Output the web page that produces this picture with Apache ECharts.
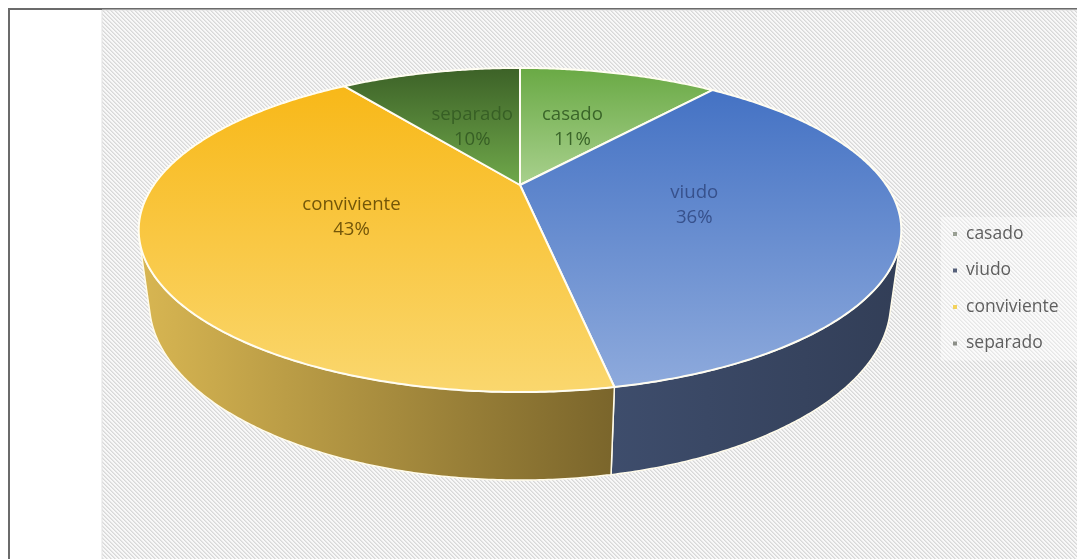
<!DOCTYPE html>
<html>
<head>
<meta charset="utf-8">
<script src="https://cdn.jsdelivr.net/npm/echarts@6/dist/echarts.min.js"></script>
<style>
  html, body { margin: 0; padding: 0; background: #ffffff; }
  #chart { width: 1077px; height: 559px; }
</style>
</head>
<body>
<div id="chart"></div>
<script>
// ---- data ----
const categories = ['casado', 'viudo', 'conviviente', 'separado'];
const values = [11, 36, 43, 10];

// ---- palette ----
const topColors = [
  ['#69a944', '#a9d18e'],
  ['#4472c4', '#8eaadc'],
  ['#f8b818', '#fad76e'],
  ['#3c6127', '#70a94b']
];
const sideColors = [
  ['#5a8a3a', '#476e2e'],
  ['#3e4d6c', '#323e57'],
  ['#d8b652', '#7a652b'],
  ['#355522', '#2c461c']
];
const labelColors = ['#3a6529', '#37518c', '#735609', '#375f25'];
const legendColors = ['#9aa094', '#56607a', '#f3d25c', '#8c8f88'];

// ---- tilted-disc projection (perspective view of a flat cylinder) ----
const view = {
  cx: 520, cy: 185,          // screen position of the disc centre
  focal: 1204,               // perspective scale
  dist: 3.287,               // camera distance, in disc radii
  elev: 24.1 * Math.PI / 180,// viewing elevation
  depth: 0.2135,             // disc thickness, in disc radii
  labelRadius: 0.475
};
const sinE = Math.sin(view.elev), cosE = Math.cos(view.elev);

function project(theta, r, z) {
  const x = r * Math.sin(theta);
  const y = r * Math.cos(theta);           // positive = away from the viewer
  const yc = y * sinE + z * cosE;
  const zc = view.dist + y * cosE - z * sinE;
  return [view.cx + view.focal * x / zc, view.cy - view.focal * yc / zc];
}

// the outer wall faces the camera where cos(theta) < -1 / (dist * cos(elev))
const wallLimit = Math.acos(-1 / (view.dist * cosE));
const wallLo = wallLimit, wallHi = 2 * Math.PI - wallLimit;

const total = values.reduce((a, b) => a + b, 0);
const starts = [];
values.reduce((acc, v, i) => { starts[i] = acc; return acc + v; }, 0);

function arc(a0, a1, r, z) {
  const pts = [];
  const n = Math.max(2, Math.ceil((a1 - a0) / (Math.PI / 360)));
  for (let k = 0; k <= n; k++) pts.push(project(a0 + (a1 - a0) * k / n, r, z));
  return pts;
}

function makeRender(idx) {
  return function (params, api) {
    const v = api.value(0);
    const s = api.value(1);
    const a0 = s / total * 2 * Math.PI;
    const a1 = (s + v) / total * 2 * Math.PI;
    const children = [];

    // outer wall (only the part turned towards the viewer)
    const w0 = Math.max(a0, wallLo), w1 = Math.min(a1, wallHi);
    if (w1 > w0) {
      const upper = arc(w0, w1, 1, 0);
      const lower = arc(w0, w1, 1, -view.depth).reverse();
      children.push({
        type: 'polygon',
        z2: 1,
        shape: { points: upper.concat(lower) },
        style: {
          fill: new echarts.graphic.LinearGradient(0, 0, 1, 0, [
            { offset: 0, color: sideColors[idx][0] },
            { offset: 1, color: sideColors[idx][1] }
          ]),
          stroke: '#fffbea',
          lineWidth: 1.5,
          lineJoin: 'round'
        }
      });
    }

    // top face
    const topPts = [project(0, 0, 0)].concat(arc(a0, a1, 1, 0));
    children.push({
      type: 'polygon',
      z2: 10,
      shape: { points: topPts },
      style: {
        fill: new echarts.graphic.LinearGradient(0, 0, 0, 1, [
          { offset: 0, color: topColors[idx][0] },
          { offset: 1, color: topColors[idx][1] }
        ]),
        stroke: '#fffdf2',
        lineWidth: 2,
        lineJoin: 'round'
      }
    });

    // data label
    const mid = (a0 + a1) / 2;
    const lp = project(mid, view.labelRadius, 0);
    const pct = Math.round(v / total * 100) + '%';
    children.push({
      type: 'text',
      z2: 20,
      x: lp[0],
      y: lp[1] + 2,
      style: {
        text: categories[idx] + '\n' + pct,
        fill: labelColors[idx],
        fontFamily: '"Open Sans", sans-serif',
        fontSize: 18.6,
        lineHeight: 25,
        align: 'center',
        verticalAlign: 'middle'
      }
    });

    return { type: 'group', children: children };
  };
}

// diagonal-hatch tile for the plot background
function hatchTile() {
  const n = 4;
  const c = document.createElement('canvas');
  c.width = n; c.height = n;
  const g = c.getContext('2d');
  for (let y = 0; y < n; y++) {
    for (let x = 0; x < n; x++) {
      const d = ((x - y) % n + n) % n;
      g.fillStyle = d === 0 ? '#d8d8d8' : (d === 1 ? '#e6e6e6' : '#f8f8f8');
      g.fillRect(x, y, 1, 1);
    }
  }
  return c;
}

const chart = echarts.init(document.getElementById('chart'), null, { renderer: 'canvas' });

const series = categories.map((name, i) => ({
  type: 'custom',
  name: name,
  coordinateSystem: 'none',
  itemStyle: { color: legendColors[i] },
  data: [[values[i], starts[i]]],
  renderItem: makeRender(i),
  silent: true
}));

chart.setOption({
  animation: false,
  backgroundColor: '#ffffff',
  graphic: [
    {
      type: 'rect', z: 0,
      shape: { x: 9, y: 9, width: 1080, height: 560 },
      style: { fill: '#ffffff', stroke: '#6b6b6b', lineWidth: 2 }
    },
    {
      type: 'rect', z: 0,
      shape: { x: 102, y: 10, width: 980, height: 560 },
      style: { fill: { image: hatchTile(), repeat: 'repeat' }, stroke: '#e3e3e3', lineWidth: 1 }
    }
  ],
  legend: {
    data: categories,
    orient: 'vertical',
    left: 941,
    top: 217,
    padding: [8, 20, 8, 12],
    backgroundColor: 'rgba(255,255,255,0.4)',
    icon: 'rect',
    itemWidth: 4,
    itemHeight: 4,
    itemGap: 18.5,
    selectedMode: false,
    textStyle: {
      color: '#5f5f5f',
      fontFamily: '"Open Sans", sans-serif',
      fontSize: 17.5,
      lineHeight: 18,
      padding: [0, 0, 0, 4]
    }
  },
  series: series
});
</script>
</body>
</html>
